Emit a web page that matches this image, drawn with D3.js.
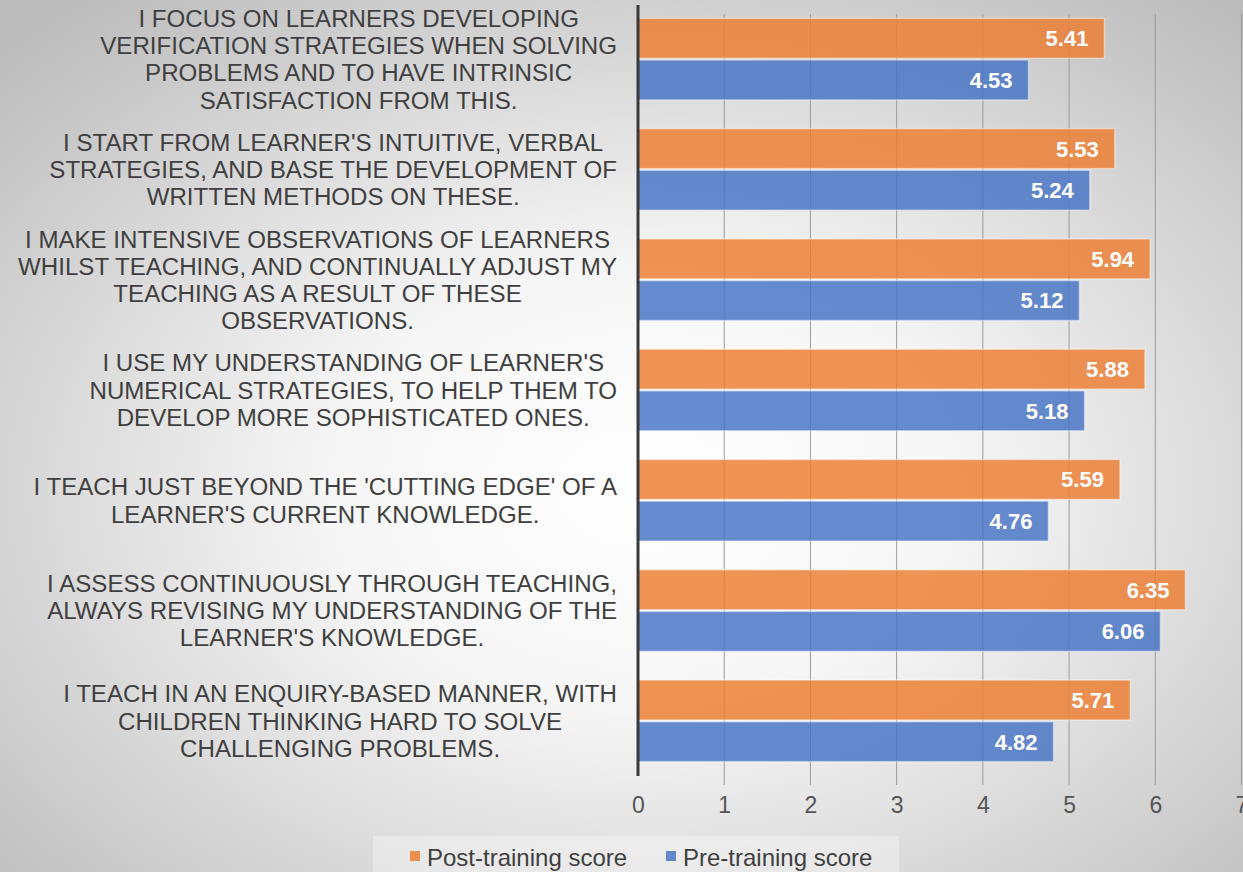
<!DOCTYPE html>
<html>
<head>
<meta charset="utf-8">
<script src="https://cdn.jsdelivr.net/npm/d3@7"></script>
<style>
  html, body { margin: 0; padding: 0; }
  body { width: 1243px; height: 872px; overflow: hidden; }
  svg { display: block; font-family: "Liberation Sans", Arial, sans-serif; }
</style>
</head>
<body>
<svg id="chart" width="1243" height="872"></svg>
<script>
// Survey statements (top to bottom), each split into its display lines
const statements = [
  ["I FOCUS ON LEARNERS DEVELOPING", "VERIFICATION STRATEGIES WHEN SOLVING", "PROBLEMS AND TO HAVE INTRINSIC", "SATISFACTION FROM THIS."],
  ["I START FROM LEARNER'S INTUITIVE, VERBAL", "STRATEGIES, AND BASE THE DEVELOPMENT OF", "WRITTEN METHODS ON THESE."],
  ["I MAKE INTENSIVE OBSERVATIONS OF LEARNERS", "WHILST TEACHING, AND CONTINUALLY ADJUST MY", "TEACHING AS A RESULT OF THESE", "OBSERVATIONS."],
  ["I USE MY UNDERSTANDING OF LEARNER'S", "NUMERICAL STRATEGIES, TO HELP THEM TO", "DEVELOP MORE SOPHISTICATED ONES."],
  ["I TEACH JUST BEYOND THE 'CUTTING EDGE' OF A", "LEARNER'S CURRENT KNOWLEDGE."],
  ["I ASSESS CONTINUOUSLY THROUGH TEACHING,", "ALWAYS REVISING MY UNDERSTANDING OF THE", "LEARNER'S KNOWLEDGE."],
  ["I TEACH IN AN ENQUIRY-BASED MANNER, WITH", "CHILDREN THINKING HARD TO SOLVE", "CHALLENGING PROBLEMS."]
];

const seriesNames = ["Post-training score", "Pre-training score"];
const postScores = [5.41, 5.53, 5.94, 5.88, 5.59, 6.35, 5.71];
const preScores  = [4.53, 5.24, 5.12, 5.18, 4.76, 6.06, 4.82];
const xTicks = [0, 1, 2, 3, 4, 5, 6, 7];

const colors = { "Post-training score": "#ED7D31", "Pre-training score": "#4472C4" };

const W = 1243, H = 872;
const plot = { left: 638, right: 1241.5, top: 4, bottom: 776 };

const svg = d3.select("#chart");

// Soft radial background
const defs = svg.append("defs");
const bg = defs.append("radialGradient").attr("id", "bg")
  .attr("cx", "52%").attr("cy", "56%").attr("r", "72%");
bg.append("stop").attr("offset", "0%").attr("stop-color", "#ffffff");
bg.append("stop").attr("offset", "35%").attr("stop-color", "#f6f6f6");
bg.append("stop").attr("offset", "100%").attr("stop-color", "#bcbcbc");
svg.append("rect").attr("width", W).attr("height", H).attr("fill", "url(#bg)");

const x = d3.scaleLinear().domain([0, 7]).range([plot.left, plot.right]);
const y = d3.scaleBand().domain(d3.range(statements.length))
  .range([plot.top, plot.bottom]).paddingInner(0.26).paddingOuter(0.13);
const ySub = d3.scaleBand().domain(seriesNames).range([0, y.bandwidth()]).paddingInner(0.04);

// Vertical gridlines with small tick extensions below the plot
svg.append("g")
  .selectAll("line").data(xTicks.slice(1)).join("line")
  .attr("x1", d => x(d)).attr("x2", d => x(d))
  .attr("y1", plot.top + 10).attr("y2", plot.bottom + 9)
  .attr("stroke", "#9a9a9a").attr("stroke-width", 1);

// Bars
const rows = statements.map((s, i) => ({ i, values: [
  { name: seriesNames[0], v: postScores[i] },
  { name: seriesNames[1], v: preScores[i] }
]}));

const g = svg.append("g");
const groups = g.selectAll("g.row").data(rows).join("g")
  .attr("transform", d => `translate(0,${y(d.i)})`);

groups.selectAll("rect").data(d => d.values).join("rect")
  .attr("x", x(0))
  .attr("y", d => ySub(d.name))
  .attr("width", d => x(d.v) - x(0))
  .attr("height", ySub.bandwidth())
  .attr("fill", d => colors[d.name])
  .attr("fill-opacity", 0.82)
  .attr("stroke", "#ffffff").attr("stroke-opacity", 0.45).attr("stroke-width", 1.5);

groups.selectAll("text.val").data(d => d.values).join("text")
  .attr("class", "val")
  .attr("x", d => x(d.v) - 16)
  .attr("y", d => ySub(d.name) + ySub.bandwidth() / 2)
  .attr("dy", "0.36em")
  .attr("text-anchor", "end")
  .attr("fill", "#ffffff").attr("font-weight", "bold").attr("font-size", 22)
  .text(d => d.v.toFixed(2));

// Zero axis line
svg.append("line")
  .attr("x1", x(0)).attr("x2", x(0))
  .attr("y1", plot.top + 1).attr("y2", plot.bottom)
  .attr("stroke", "#3a3a3a").attr("stroke-width", 3);

// X axis tick labels
const xAxis = d3.axisBottom(x).tickValues(xTicks).tickFormat(d3.format("d"))
  .tickSize(0).tickPadding(0);
const ax = svg.append("g").attr("transform", `translate(0,${plot.bottom + 21})`).call(xAxis);
ax.select(".domain").remove();
ax.selectAll("text").attr("font-size", 23).attr("fill", "#555555")
  .attr("font-family", "Liberation Sans, Arial, sans-serif");

// Category labels: each block right-aligned, lines centered within it
const lineH = 27.2;
const labelRight = 617;
const lab = svg.append("g").attr("font-size", 24.1).attr("fill", "#3f3f3f");
statements.forEach((lines, i) => {
  const cy = y(i) + y.bandwidth() / 2;
  const t = lab.append("text").attr("text-anchor", "middle");
  const spans = lines.map((ln, k) => t.append("tspan")
    .attr("y", cy + (k - (lines.length - 1) / 2) * lineH)
    .attr("dy", "0.36em").text(ln));
  const maxW = d3.max(spans, s => s.node().getComputedTextLength());
  spans.forEach(s => s.attr("x", labelRight - maxW / 2));
});

// Legend
const leg = svg.append("g");
leg.append("rect").attr("x", 373).attr("y", 836).attr("width", 526).attr("height", 40)
  .attr("fill", "#ffffff").attr("fill-opacity", 0.35);
const legX = [410, 666];
seriesNames.forEach((n, k) => {
  leg.append("rect").attr("x", legX[k]).attr("y", 851).attr("width", 10).attr("height", 10)
    .attr("fill", colors[n]).attr("fill-opacity", 0.82);
  leg.append("text").attr("x", legX[k] + 17).attr("y", 857).attr("dy", "0.36em")
    .attr("font-size", 24).attr("fill", "#3f3f3f").text(n);
});
</script>
</body>
</html>
